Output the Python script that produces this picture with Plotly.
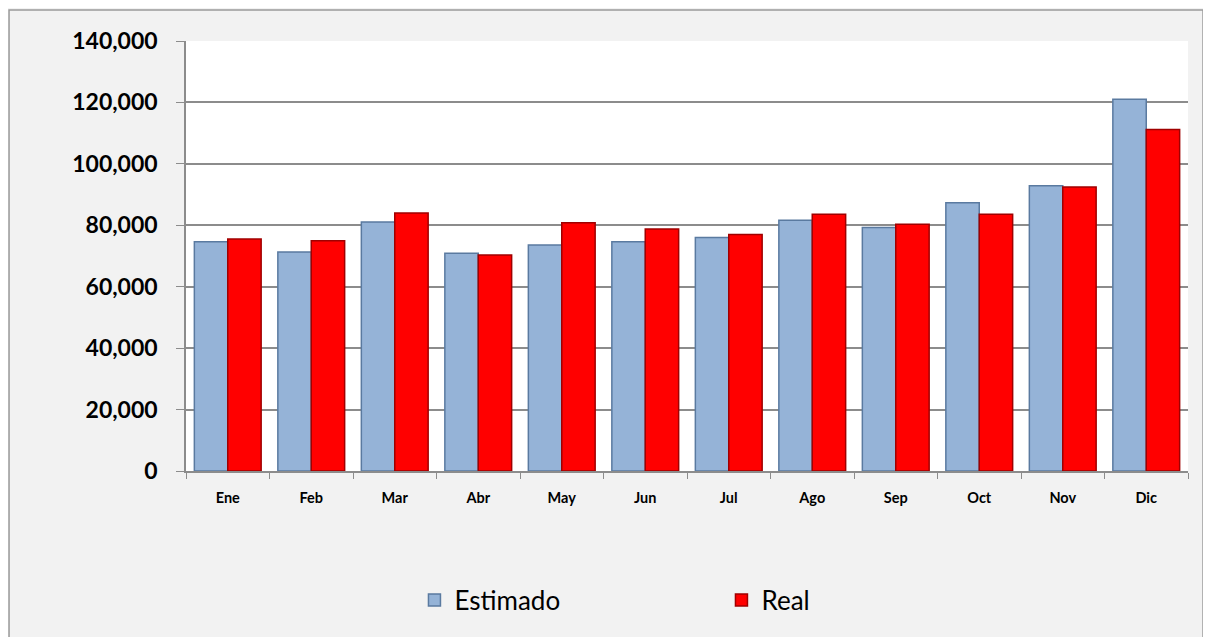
import plotly.graph_objects as go

# Monthly values
months = ["Ene", "Feb", "Mar", "Abr", "May", "Jun", "Jul", "Ago", "Sep", "Oct", "Nov", "Dic"]
estimado = [74600, 71300, 81100, 70900, 73600, 74600, 76000, 81600, 79300, 87300, 92900, 121000]
real = [75500, 75000, 84000, 70300, 80800, 78800, 77000, 83600, 80300, 83600, 92500, 111200]
y_ticks = [0, 20000, 40000, 60000, 80000, 100000, 120000, 140000]

GRID = "#8c8c8c"
FONT = "Lato, Calibri, sans-serif"

fig = go.Figure()
fig.add_trace(go.Bar(
    x=months, y=estimado, name="Estimado",
    marker=dict(color="#95b3d7", line=dict(color="#5a7aa0", width=1.5)),
))
fig.add_trace(go.Bar(
    x=months, y=real, name="Real",
    marker=dict(color="#ff0000", line=dict(color="#a00000", width=1.5)),
))

# the page body adds an 8px margin, so the figure is sized to the remaining space
fig.update_layout(
    width=1203, height=629,
    barmode="group", bargap=0.2, bargroupgap=0,
    paper_bgcolor="#f2f2f2", plot_bgcolor="#ffffff",
    margin=dict(l=178, r=23, t=33, b=166),
    font=dict(family=FONT, color="#000000"),
    legend=dict(
        orientation="h", x=0.228, y=-0.30, xanchor="left", yanchor="middle",
        font=dict(size=26, family=FONT), entrywidth=262, bgcolor="rgba(0,0,0,0)",
    ),
)

# outer chart border
fig.add_shape(
    type="rect", xref="paper", yref="paper",
    x0=-0.1766, x1=1.0150, y0=-0.40, y1=1.072,
    line=dict(color="#9a9a9a", width=1.5), fillcolor="rgba(0,0,0,0)", layer="below",
)

fig.update_xaxes(
    tickfont=dict(size=14.5, family=FONT, color="#000000", weight="bold"),
    showgrid=False, showline=True, linecolor=GRID, linewidth=1.5,
    ticks="outside", tickson="boundaries", ticklen=6, tickcolor=GRID,
    ticklabelstandoff=13,
)
fig.update_yaxes(
    range=[0, 140000], tickvals=y_ticks, tickformat=",",
    tickfont=dict(size=23, family=FONT, color="#000000", weight="bold"),
    showgrid=True, gridcolor=GRID, gridwidth=1.5,
    showline=True, linecolor=GRID, linewidth=1.5,
    ticks="outside", ticklen=8, tickcolor=GRID,
    zeroline=False, ticklabelstandoff=14,
)

fig.write_html("out.html")
